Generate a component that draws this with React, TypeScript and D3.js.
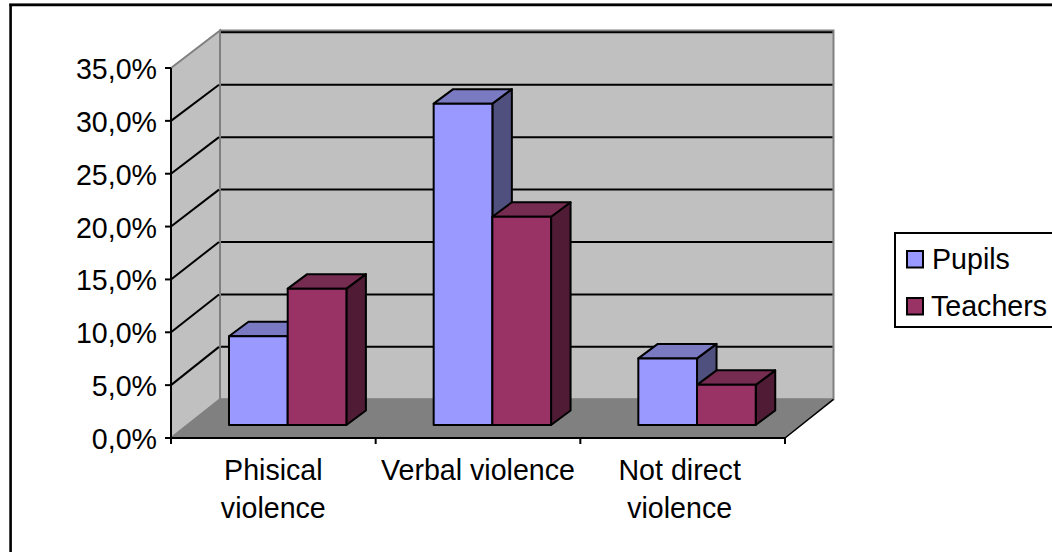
import React from "react";
import * as d3 from "d3";

const categories = ["Phisical violence", "Verbal violence", "Not direct violence"];
const categoryLines = [["Phisical", "violence"], ["Verbal violence"], ["Not direct", "violence"]];
const seriesNames = ["Pupils", "Teachers"];
const pupils = [8.4, 30.4, 6.3];
const teachers = [12.9, 19.7, 3.8];
const yTicks = [0, 5, 10, 15, 20, 25, 30, 35];
const frontColors = ["#9999ff", "#993366"];
const topColors = ["#7a7ac3", "#752c50"];
const sideColors = ["#50507f", "#4f1b35"];

const W = 1052, H = 552;
const FONT = "'Liberation Sans', Arial, sans-serif";

export default function App() {
  const y = d3.scaleLinear().domain([0, 35]).range([438, 68]);
  const yBack = d3.scaleLinear().domain([0, 35]).range([399.3, 32.3]);
  const x = d3.scaleBand().domain(categories).range([171, 785]);
  const backL = 220, backR = 833.5;
  const barY = d3.scaleLinear().domain([0, 35]).range([425, 55]);
  const barW = 58.7, barDx = 19.5, barDy = -14.5;
  const barStart = (c: string) => (x(c) as number) + 58;
  const fmt = (v: number) => v.toFixed(1).replace(".", ",") + "%";
  const base = barY(0);

  const bars: React.ReactNode[] = [];
  categories.forEach((c, ci) => {
    [pupils, teachers].forEach((vals, si) => {
      const x0 = barStart(c) + si * barW;
      const x1 = x0 + barW;
      const t = barY(vals[ci]);
      const stroke = { stroke: "#000", strokeWidth: 2, strokeLinejoin: "round" as const };
      bars.push(
        <g key={`${ci}-${si}`}>
          <polygon points={`${x1},${t} ${x1 + barDx},${t + barDy} ${x1 + barDx},${base + barDy} ${x1},${base}`} fill={sideColors[si]} {...stroke} />
          <polygon points={`${x0},${t} ${x0 + barDx},${t + barDy} ${x1 + barDx},${t + barDy} ${x1},${t}`} fill={topColors[si]} {...stroke} />
          <rect x={x0} y={t} width={barW} height={base - t} fill={frontColors[si]} {...stroke} />
        </g>
      );
    });
  });

  return (
    <svg width={W} height={H} style={{ position: "absolute", left: 0, top: 0, background: "#fff" }} fontFamily={FONT}>
      {/* outer frame: runs off the right and bottom edges */}
      <line x1={9} x2={W} y1={3.6} y2={3.6} stroke="#808080" strokeWidth={1} />
      <line x1={9.5} x2={W} y1={5} y2={5} stroke="#000" strokeWidth={2.4} />
      <line x1={10.6} x2={10.6} y1={4} y2={H} stroke="#000" strokeWidth={2.6} />
      {/* walls */}
      <polygon points={`${backL},30.5 ${backR},30.5 ${backR},${yBack(0)} ${backL},${yBack(0)}`} fill="#c0c0c0" stroke="#808080" strokeWidth={2} />
      <polygon points={`171,${y(35)} ${backL},30.5 ${backL},${yBack(0)} 171,${y(0)}`} fill="#c0c0c0" stroke="#808080" strokeWidth={2} />
      <polygon points={`171,${y(0)} ${backL},${yBack(0)} ${backR},${yBack(0)} 785,${y(0)}`} fill="#808080" stroke="#808080" strokeWidth={1} />
      {/* gridlines */}
      {yTicks.slice(1).map((t) => (
        <g key={t}>
          <line x1={backL + 1} x2={backR - 1} y1={yBack(t)} y2={yBack(t)} stroke="#000" strokeWidth={2} />
          {t < 35 ? <line x1={171} x2={backL - 1} y1={y(t)} y2={yBack(t)} stroke="#000" strokeWidth={2} /> : null}
        </g>
      ))}
      {bars}
      {/* axes */}
      <line x1={171} x2={171} y1={y(35)} y2={y(0)} stroke="#000" strokeWidth={2} />
      <line x1={171} x2={785} y1={y(0)} y2={y(0)} stroke="#000" strokeWidth={2} />
      <line x1={785} x2={backR} y1={y(0)} y2={yBack(0)} stroke="#000" strokeWidth={1.5} />
      {yTicks.map((t) => (
        <g key={t}>
          <line x1={165} x2={171} y1={y(t)} y2={y(t)} stroke="#000" strokeWidth={2} />
          <text x={157} y={y(t) + 11} textAnchor="end" fontSize={28.6} fill="#000">{fmt(t)}</text>
        </g>
      ))}
      {[...categories.map((c) => x(c) as number), 785].map((px, i) => (
        <line key={i} x1={px} x2={px} y1={y(0)} y2={y(0) + 6} stroke="#000" strokeWidth={2} />
      ))}
      {categories.map((c, i) => (
        <text key={c} textAnchor="middle" fontSize={28.6} fill="#000">
          {categoryLines[i].map((l, li) => (
            <tspan key={li} x={(x(c) as number) + x.bandwidth() / 2 - (i === 2 ? 3 : 0)} y={480 + li * 38}>{l}</tspan>
          ))}
        </text>
      ))}
      {/* legend */}
      <rect x={895} y={233} width={170} height={94} fill="#fff" stroke="#000" strokeWidth={2} />
      {seriesNames.map((s, i) => (
        <g key={s}>
          <rect x={907} y={251 + i * 47} width={16} height={16.5} fill={frontColors[i]} stroke="#000" strokeWidth={2} />
          <text x={i === 0 ? 932 : 931} y={269 + i * 47} fontSize={28.6} fill="#000">{s}</text>
        </g>
      ))}
    </svg>
  );
}
